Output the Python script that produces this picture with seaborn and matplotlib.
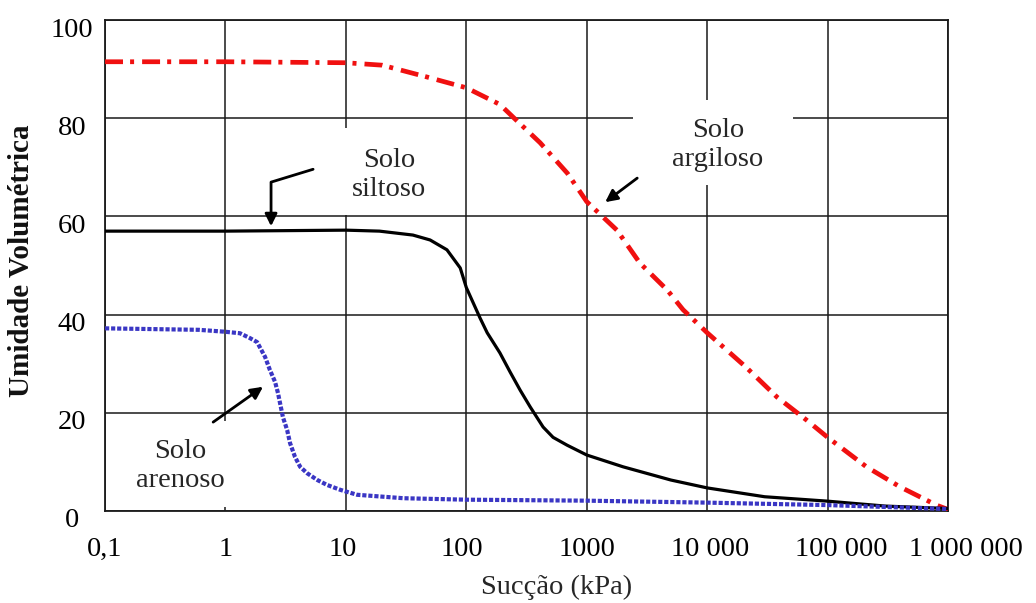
import matplotlib
matplotlib.use("Agg")
import matplotlib.pyplot as plt
import matplotlib.transforms as mtransforms
from matplotlib.patches import Rectangle
import pandas as pd
import seaborn as sns

# Soil-water retention curves: volumetric water content (%) vs suction (kPa)
succao_argiloso = [0.1, 1, 10, 20, 47, 100, 190, 245, 410, 690, 1000, 1780, 2760,
                   4660, 6300, 1e4, 2.1e4, 3.8e4, 6.7e4, 1e5, 2.1e5, 4e5, 8e5, 1e6]
umidade_argiloso = [91.5, 91.5, 91.3, 90.8, 88.4, 86.2, 82.8, 80.2, 75.0, 68.8, 63.0,
                    57.2, 50.5, 45.0, 41.0, 36.3, 29.3, 23.2, 18.5, 15.0, 9.0, 4.9,
                    1.2, 0.3]

succao_siltoso = [0.1, 1, 10, 19, 36, 50, 69, 89, 100, 130, 149, 190, 231, 280, 339,
                  434, 525, 687, 1000, 2000, 5000, 1e4, 3e4, 1e5, 3e5, 1e6]
umidade_siltoso = [57.0, 57.0, 57.2, 57.0, 56.2, 55.2, 53.2, 49.5, 45.5, 39.3, 36.3,
                   32.2, 28.3, 24.6, 21.2, 17.1, 15.0, 13.4, 11.4, 9.0, 6.3, 4.7,
                   2.9, 2.0, 1.0, 0.5]

succao_arenoso = [0.1, 0.6, 1, 1.32, 1.6, 1.83, 2.13, 2.34, 2.58, 2.73, 3.0, 3.25,
                  3.44, 3.78, 4.17, 4.76, 5.8, 6.98, 9, 12.4, 30, 100, 1000, 1e4,
                  1e5, 1e6]
umidade_arenoso = [37.2, 36.9, 36.5, 36.2, 35.2, 34.4, 31.4, 28.7, 26.3, 24.0, 19.1,
                   16.5, 13.8, 11.0, 9.0, 7.7, 6.3, 5.3, 4.3, 3.3, 2.6, 2.3, 2.1,
                   1.7, 1.2, 0.4]

x_ticks = [0.1, 1, 10, 100, 1000, 1e4, 1e5, 1e6]
x_tick_labels = ["0,1", "1", "10", "100", "1000", "10 000", "100 000", "1 000 000"]
y_ticks = [0, 20, 40, 60, 80, 100]

sns.set_style("white")
plt.rcParams["font.family"] = ["Liberation Serif", "DejaVu Serif"]

fig, ax = plt.subplots(figsize=(10.36, 6.03), dpi=100)
fig.subplots_adjust(left=0.1014, right=0.9151, bottom=0.1526, top=0.9668)

ax.set_xscale("log")
ax.set_xlim(0.1, 1e6)
ax.set_ylim(0, 100)

# grid
ax.set_axisbelow(True)
ax.grid(True, which="major", color="#1a1a1a", linewidth=1.1)
ax.grid(False, which="minor")
for s in ax.spines.values():
    s.set_color("#1a1a1a")
    s.set_linewidth(1.3)

# white backgrounds behind the labels (hide the grid there)
for (x0, y0, w, h) in [(0.626, 0.664, 0.190, 0.173),
                       (0.273, 0.603, 0.130, 0.177),
                       (0.018, 0.008, 0.142, 0.175)]:
    ax.add_patch(Rectangle((x0, y0), w, h, transform=ax.transAxes,
                           facecolor="white", edgecolor="none", zorder=1))

df_a = pd.DataFrame({"succao": succao_argiloso, "umidade": umidade_argiloso})
df_s = pd.DataFrame({"succao": succao_siltoso, "umidade": umidade_siltoso})
df_r = pd.DataFrame({"succao": succao_arenoso, "umidade": umidade_arenoso})

sns.lineplot(data=df_a, x="succao", y="umidade", ax=ax, color="#f01010",
             linewidth=3.4, zorder=3)
ax.lines[-1].set_linestyle((0, (3.8, 1.5, 0.85, 1.7)))
ax.lines[-1].set_dash_capstyle("butt")

sns.lineplot(data=df_s, x="succao", y="umidade", ax=ax, color="black",
             linewidth=2.3, zorder=3)
ax.lines[-1].set_solid_joinstyle("round")

sns.lineplot(data=df_r, x="succao", y="umidade", ax=ax, color="#3a36c4",
             linewidth=3.0, zorder=3)
ax.lines[-1].set_linestyle((0, (1.0, 0.45)))
ax.lines[-1].set_dash_capstyle("butt")

# ticks
ax.set_xticks(x_ticks)
ax.set_xticklabels(x_tick_labels)
ax.minorticks_off()
ax.set_yticks(y_ticks)
ax.tick_params(axis="both", length=0, labelsize=20.5, colors="black")
ax.tick_params(axis="x", pad=18.5)
ax.tick_params(axis="y", pad=24)
for lab in ax.get_yticklabels():
    lab.set_horizontalalignment("center")
    lab.set_transform(lab.get_transform() +
                      mtransforms.ScaledTranslation(0, -0.07, fig.dpi_scale_trans))
for lab, dx in zip(ax.get_xticklabels(), [0, 0, -0.03, -0.04, 0, 0.03, 0.14, 0.18]):
    lab.set_transform(lab.get_transform() +
                      mtransforms.ScaledTranslation(dx, 0, fig.dpi_scale_trans))

ax.set_xlabel("Sucção (kPa)", fontsize=20.5)
ax.xaxis.set_label_coords(0.536, -0.13)
ax.set_ylabel("Umidade Volumétrica", fontsize=21, fontweight="bold")
ax.yaxis.set_label_coords(-0.083, 0.51)
ax.yaxis.label.set_color("#111111")

# labels and arrows
txt_kw = dict(fontsize=20.5, ha="center", va="center", linespacing=1.2, zorder=4)
ax.text(22.9, 68.4, "Solo\nsiltoso", **txt_kw)
ax.text(12300, 74.5, "Solo\nargiloso", **txt_kw)
ax.text(0.42, 9.2, "Solo\narenoso", **txt_kw)

arrow_kw = dict(arrowstyle="-|>", color="black", lw=2.0, mutation_scale=18,
                shrinkA=0, shrinkB=0)
ax.annotate("", xy=(2.39, 58.0), xytext=(5.34, 69.6),
            arrowprops=dict(connectionstyle="angle,angleA=17,angleB=90,rad=0",
                            **arrow_kw), zorder=5)
ax.annotate("", xy=(1422, 62.9), xytext=(2624, 67.8),
            arrowprops=dict(**arrow_kw), zorder=5)
ax.annotate("", xy=(2.05, 25.3), xytext=(0.79, 18.1),
            arrowprops=dict(**arrow_kw), zorder=5)

fig.savefig("out.png", dpi=100)
